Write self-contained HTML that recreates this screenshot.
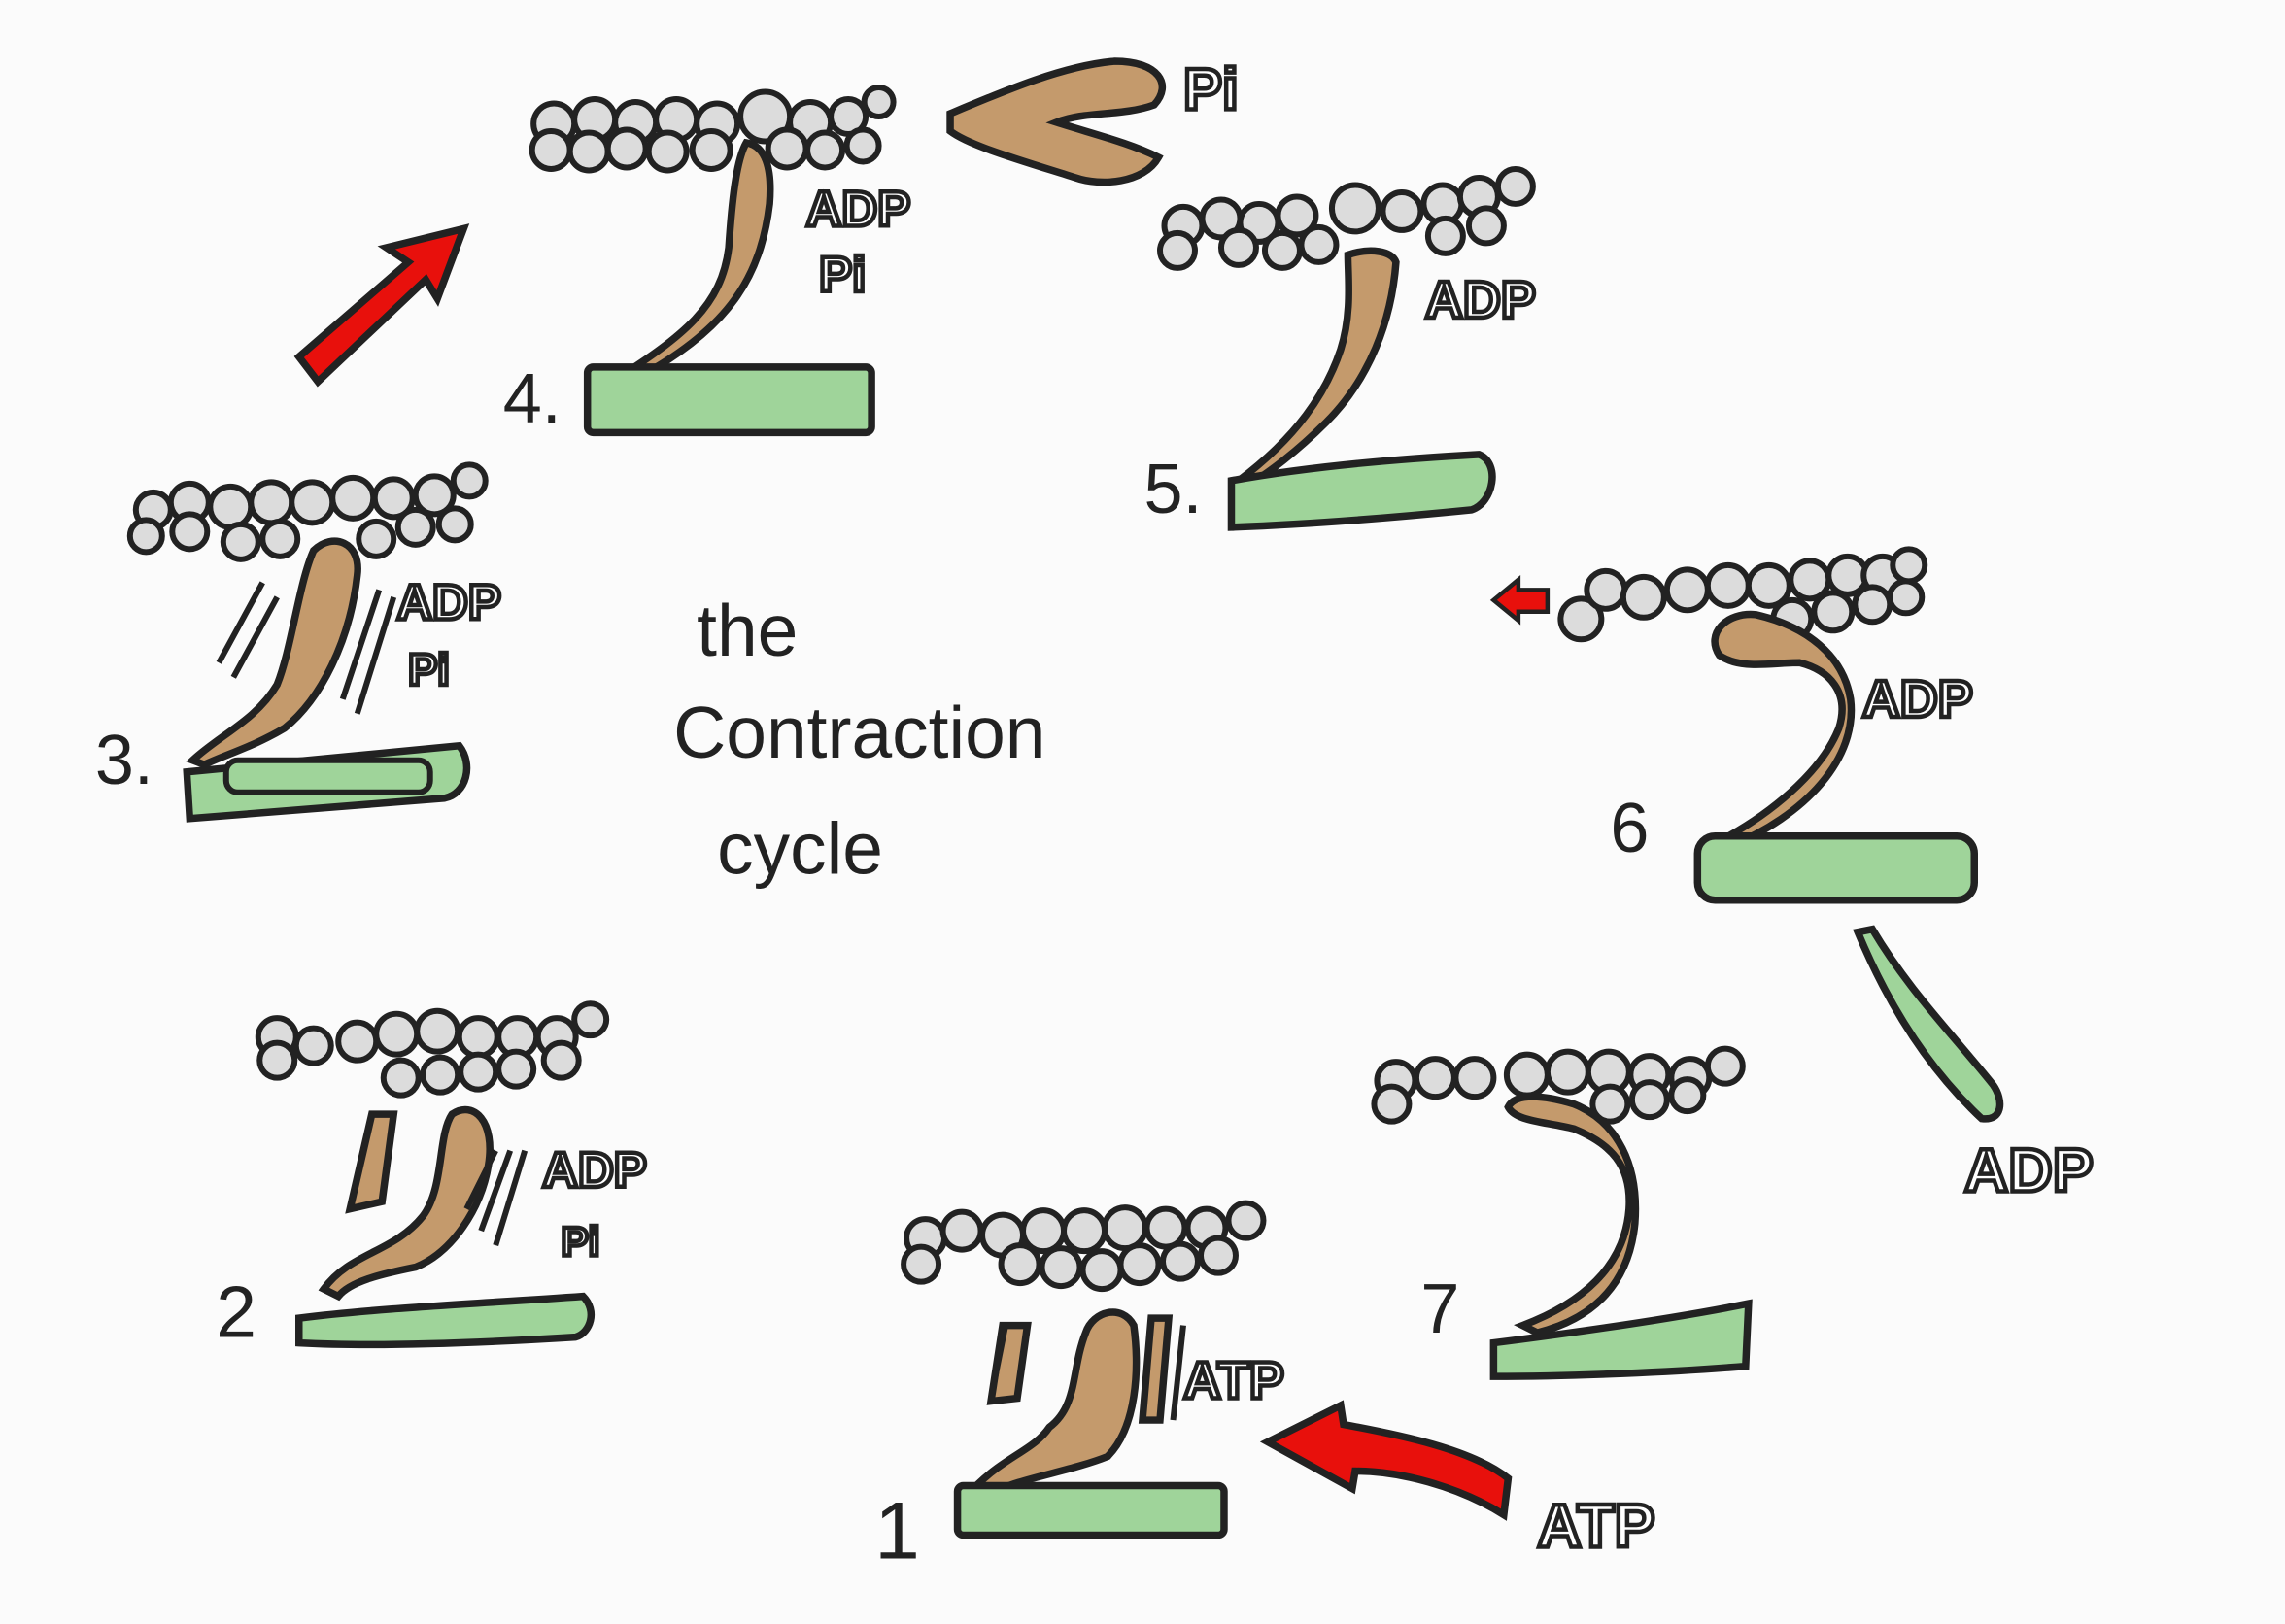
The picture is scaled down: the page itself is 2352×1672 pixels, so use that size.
<!DOCTYPE html>
<html><head><meta charset="utf-8"><style>
html,body{margin:0;padding:0;background:#fbfbfb;}
svg{display:block;}
text{font-family:"Liberation Sans",sans-serif;}
.c{fill:#dcdcdc;stroke:#222;stroke-width:4}
.g{fill:#9fd49a;stroke:#222;stroke-width:5}
.b{fill:#c49a6c;stroke:#222;stroke-width:5}
.r{fill:#e8100c;stroke:#222;stroke-width:5}
.lb{font-size:40px;font-weight:bold;fill:#fff;stroke:#222;stroke-width:3;paint-order:normal}
.num{font-size:48px;fill:#222}
.t{font-size:50px;fill:#222}
</style></head><body>
<svg width="2352" height="1672" viewBox="0 0 1568 1115" xmlns="http://www.w3.org/2000/svg">
<rect width="1568" height="1115" fill="#fbfbfb"/>
<text class="t" x="478" y="450">the</text>
<text class="t" x="462" y="520">Contraction</text>
<text class="t" x="492" y="600">cycle</text>

<path class="r" d="M205,245 L280,180 L265,170 L318,157 L300,205 L292,192 L218,262 Z"/>

<g>
<circle class="c" cx="380" cy="85" r="14"/><circle class="c" cx="408" cy="82" r="14"/><circle class="c" cx="436" cy="84" r="14"/><circle class="c" cx="464" cy="82" r="14"/><circle class="c" cx="492" cy="85" r="14"/><circle class="c" cx="525" cy="80" r="17"/><circle class="c" cx="556" cy="84" r="14"/><circle class="c" cx="582" cy="80" r="12"/><circle class="c" cx="603" cy="70" r="10"/>
<circle class="c" cx="378" cy="103" r="13"/><circle class="c" cx="404" cy="104" r="13"/><circle class="c" cx="430" cy="102" r="13"/><circle class="c" cx="458" cy="104" r="13"/><circle class="c" cx="488" cy="103" r="13"/><circle class="c" cx="540" cy="102" r="13"/><circle class="c" cx="566" cy="103" r="12"/><circle class="c" cx="592" cy="100" r="11"/>
</g>
<path class="b" d="M420,262 C470,230 495,210 500,170 C502,140 505,110 512,98 C525,100 530,115 528,140 C522,190 500,225 440,258 Z"/>
<rect class="g" x="403" y="252" width="195" height="45" rx="4"/>
<text class="num" x="345" y="290">4.</text>
<text class="lb" x="553" y="155" style="font-size:34px">ADP</text>
<text class="lb" x="562" y="200" style="font-size:34px">Pi</text>
<path class="b" d="M652,78 C690,62 730,45 765,42 C795,42 805,58 792,72 C770,80 745,76 725,84 C750,92 775,98 795,108 C785,126 755,128 738,122 C700,110 665,100 652,90 Z"/>
<text class="lb" x="812" y="75" style="font-size:40px">Pi</text>

<g>
<circle class="c" cx="812" cy="155" r="13"/><circle class="c" cx="838" cy="150" r="13"/><circle class="c" cx="864" cy="153" r="13"/><circle class="c" cx="890" cy="148" r="13"/><circle class="c" cx="930" cy="143" r="16"/><circle class="c" cx="962" cy="145" r="13"/><circle class="c" cx="990" cy="140" r="13"/><circle class="c" cx="1015" cy="135" r="13"/><circle class="c" cx="1040" cy="128" r="12"/>
<circle class="c" cx="808" cy="172" r="12"/><circle class="c" cx="850" cy="170" r="12"/><circle class="c" cx="880" cy="172" r="12"/><circle class="c" cx="905" cy="168" r="12"/><circle class="c" cx="992" cy="162" r="12"/><circle class="c" cx="1020" cy="155" r="12"/>
</g>
<path class="b" d="M850,330 C890,300 910,270 920,240 C928,215 925,190 925,175 C940,170 955,172 958,180 C955,220 940,260 910,290 C890,310 870,325 858,332 Z"/>
<path class="g" d="M845,330 C900,320 960,315 1015,312 C1030,318 1025,345 1010,350 C960,355 900,360 845,362 Z"/>
<text class="num" x="785" y="352">5.</text>
<text class="lb" x="978" y="218" style="font-size:36px">ADP</text>

<path class="r" d="M1025,412 L1042,398 L1042,405 L1062,405 L1062,420 L1042,420 L1042,426 Z" style="stroke-width:3"/>
<g>
<circle class="c" cx="1085" cy="425" r="14"/><circle class="c" cx="1102" cy="405" r="13"/><circle class="c" cx="1128" cy="410" r="14"/><circle class="c" cx="1158" cy="405" r="14"/><circle class="c" cx="1186" cy="402" r="14"/><circle class="c" cx="1214" cy="402" r="14"/><circle class="c" cx="1242" cy="398" r="13"/><circle class="c" cx="1268" cy="395" r="13"/><circle class="c" cx="1292" cy="395" r="13"/><circle class="c" cx="1310" cy="388" r="11"/>
<circle class="c" cx="1230" cy="425" r="13"/><circle class="c" cx="1258" cy="420" r="13"/><circle class="c" cx="1285" cy="415" r="12"/><circle class="c" cx="1308" cy="410" r="11"/>
</g>
<path class="b" d="M1175,580 C1215,560 1250,530 1262,500 C1270,475 1255,460 1235,455 C1215,455 1195,460 1180,450 C1170,435 1185,420 1205,422 C1240,430 1265,450 1270,480 C1275,520 1240,560 1185,582 Z"/>
<rect class="g" x="1165" y="574" width="190" height="44" rx="12"/>
<text class="num" x="1105" y="585">6</text>
<text class="lb" x="1278" y="492" style="font-size:36px">ADP</text>
<path class="g" d="M1275,640 C1300,700 1330,740 1360,768 C1375,770 1375,755 1368,745 C1340,710 1310,680 1285,638 Z"/>
<text class="lb" x="1348" y="818" style="font-size:42px">ADP</text>

<g>
<circle class="c" cx="958" cy="742" r="13"/><circle class="c" cx="985" cy="740" r="13"/><circle class="c" cx="1012" cy="740" r="13"/><circle class="c" cx="1048" cy="738" r="14"/><circle class="c" cx="1076" cy="736" r="14"/><circle class="c" cx="1104" cy="736" r="14"/><circle class="c" cx="1132" cy="738" r="13"/><circle class="c" cx="1160" cy="740" r="13"/><circle class="c" cx="1184" cy="732" r="12"/>
<circle class="c" cx="955" cy="758" r="12"/><circle class="c" cx="1105" cy="758" r="12"/><circle class="c" cx="1132" cy="755" r="12"/><circle class="c" cx="1158" cy="752" r="11"/>
</g>
<path class="b" d="M1045,910 C1085,895 1115,870 1118,830 C1120,800 1105,785 1080,775 C1060,770 1040,770 1035,760 C1040,750 1060,752 1080,758 C1110,770 1125,800 1122,840 C1118,880 1095,905 1055,915 Z"/>
<path class="g" d="M1025,922 C1080,915 1150,905 1200,895 L1198,938 C1150,942 1080,945 1025,945 Z"/>
<text class="num" x="975" y="915">7</text>

<g>
<circle class="c" cx="635" cy="850" r="13"/><circle class="c" cx="660" cy="845" r="13"/><circle class="c" cx="688" cy="848" r="14"/><circle class="c" cx="716" cy="845" r="14"/><circle class="c" cx="744" cy="845" r="14"/><circle class="c" cx="772" cy="843" r="14"/><circle class="c" cx="800" cy="843" r="13"/><circle class="c" cx="828" cy="843" r="13"/><circle class="c" cx="855" cy="838" r="12"/>
<circle class="c" cx="632" cy="868" r="12"/><circle class="c" cx="700" cy="868" r="13"/><circle class="c" cx="728" cy="870" r="13"/><circle class="c" cx="756" cy="872" r="13"/><circle class="c" cx="782" cy="868" r="13"/><circle class="c" cx="810" cy="866" r="12"/><circle class="c" cx="836" cy="862" r="12"/>
</g>
<path class="b" d="M688,910 L705,910 L698,960 L680,962 Z"/>
<path class="b" d="M670,1020 C690,1000 710,995 720,980 C740,965 735,940 745,915 C750,900 770,895 778,910 C782,940 780,980 760,1000 C735,1010 700,1015 680,1025 Z"/>
<path class="b" d="M790,905 L802,905 L796,975 L784,975 Z"/>
<line x1="680" y1="960" x2="690" y2="910" stroke="#222" stroke-width="4"/>
<line x1="812" y1="910" x2="805" y2="975" stroke="#222" stroke-width="4"/>
<rect class="g" x="657" y="1020" width="183" height="34" rx="4"/>
<text class="num" x="600" y="1070" style="font-size:56px">1</text>
<text class="lb" x="812" y="960" style="font-size:36px">ATP</text>
<path class="r" d="M1032,1040 C1000,1020 960,1010 930,1010 L928,1022 L870,990 L920,965 L922,978 C960,985 1010,995 1035,1015 Z"/>
<text class="lb" x="1055" y="1062" style="font-size:42px">ATP</text>

<g>
<circle class="c" cx="190" cy="712" r="13"/><circle class="c" cx="215" cy="718" r="12"/><circle class="c" cx="245" cy="715" r="13"/><circle class="c" cx="272" cy="710" r="14"/><circle class="c" cx="300" cy="708" r="14"/><circle class="c" cx="328" cy="712" r="13"/><circle class="c" cx="355" cy="712" r="13"/><circle class="c" cx="382" cy="712" r="13"/><circle class="c" cx="405" cy="700" r="11"/>
<circle class="c" cx="190" cy="728" r="12"/><circle class="c" cx="275" cy="740" r="12"/><circle class="c" cx="302" cy="738" r="12"/><circle class="c" cx="328" cy="736" r="12"/><circle class="c" cx="354" cy="734" r="12"/><circle class="c" cx="385" cy="728" r="12"/>
</g>
<path class="b" d="M255,765 L270,765 L262,825 L240,830 Z"/>
<path class="b" d="M222,885 C240,860 270,860 290,835 C305,815 300,780 310,765 C325,755 340,770 335,800 C330,830 310,860 285,870 C260,875 240,880 232,890 Z"/>
<line x1="320" y1="830" x2="340" y2="790" stroke="#222" stroke-width="4"/>
<line x1="330" y1="845" x2="350" y2="790" stroke="#222" stroke-width="4"/>
<line x1="340" y1="855" x2="360" y2="790" stroke="#222" stroke-width="4"/>
<path class="g" d="M205,905 C260,898 330,895 400,890 C410,900 405,915 395,918 C330,922 260,925 205,922 Z"/>
<text class="num" x="148" y="918" style="font-size:50px">2</text>
<text class="lb" x="372" y="815" style="font-size:34px">ADP</text>
<text class="lb" x="385" y="862" style="font-size:28px">Pi</text>

<g>
<circle class="c" cx="105" cy="350" r="12"/><circle class="c" cx="130" cy="345" r="13"/><circle class="c" cx="158" cy="348" r="14"/><circle class="c" cx="186" cy="345" r="14"/><circle class="c" cx="214" cy="345" r="14"/><circle class="c" cx="242" cy="342" r="14"/><circle class="c" cx="270" cy="342" r="13"/><circle class="c" cx="298" cy="340" r="13"/><circle class="c" cx="322" cy="330" r="11"/>
<circle class="c" cx="100" cy="368" r="11"/><circle class="c" cx="130" cy="365" r="12"/><circle class="c" cx="165" cy="372" r="12"/><circle class="c" cx="192" cy="370" r="12"/><circle class="c" cx="258" cy="370" r="12"/><circle class="c" cx="285" cy="362" r="12"/><circle class="c" cx="312" cy="360" r="11"/>
</g>
<path class="b" d="M132,522 C150,505 175,495 190,470 C200,445 205,400 215,378 C228,365 248,372 245,395 C240,440 220,480 195,500 C175,512 155,518 140,525 Z"/>
<line x1="150" y1="455" x2="180" y2="400" stroke="#222" stroke-width="4"/>
<line x1="160" y1="465" x2="190" y2="410" stroke="#222" stroke-width="4"/>
<line x1="235" y1="480" x2="260" y2="405" stroke="#222" stroke-width="4"/>
<line x1="245" y1="490" x2="270" y2="410" stroke="#222" stroke-width="4"/>
<path class="g" d="M128,530 L315,512 C325,525 320,545 305,548 L130,562 Z"/>
<rect x="155" y="522" width="140" height="22" rx="8" fill="#9fd49a" stroke="#222" stroke-width="4"/>
<text class="num" x="65" y="538">3.</text>
<text class="lb" x="272" y="425" style="font-size:34px">ADP</text>
<text class="lb" x="280" y="470" style="font-size:30px">Pi</text>
</svg>
</body></html>
